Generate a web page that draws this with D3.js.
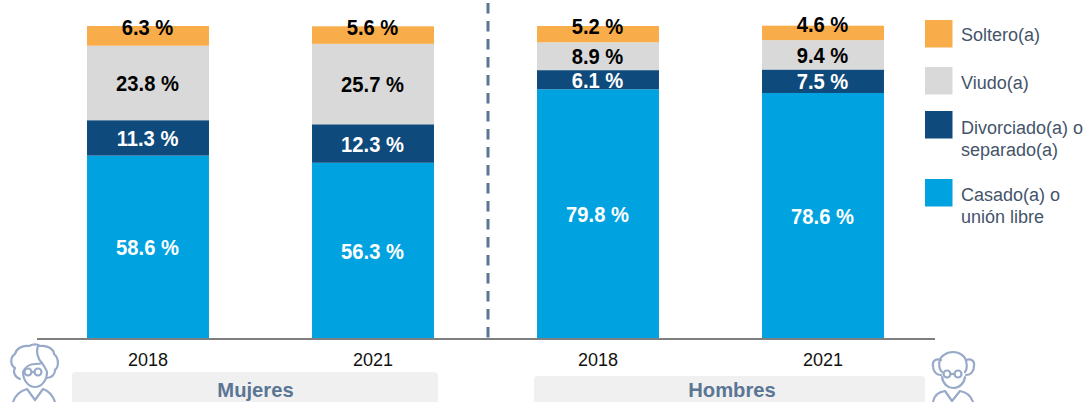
<!DOCTYPE html>
<html><head><meta charset="utf-8">
<script src="https://cdn.jsdelivr.net/npm/d3@7"></script>
<style>html,body{margin:0;padding:0;background:#fff;overflow:hidden}svg{display:block}text{font-family:"Liberation Sans",Arial,sans-serif}</style>
</head><body><svg id="c" width="1085" height="402"></svg>
<script>
const groups = ["m2018","m2021","h2018","h2021"];
const yearLabels = ["2018","2021","2018","2021"];
const casado = [58.6,56.3,79.8,78.6];
const divorciado = [11.3,12.3,6.1,7.5];
const viudo = [23.8,25.7,8.9,9.4];
const soltero = [6.3,5.6,5.2,4.6];
const seriesColors = ["#00a3e0","#0e4a7b","#d9d9d9","#f9ad4a"];
const labelColors = ["#fff","#fff","#000","#000"];
const panelNames = ["Mujeres","Hombres"];
const legendOrder = [["Soltero(a)"],["Viudo(a)"],["Divorciado(a) o","separado(a)"],["Casado(a) o","unión libre"]];
const legendColors = ["#f9ad4a","#d9d9d9","#0e4a7b","#00a3e0"];

const svg = d3.select("#c");
const x = d3.scaleBand().domain(groups).range([35.5,935.5]).paddingInner(0.458).paddingOuter(0.229);
const y = d3.scaleLinear().domain([0,100]).range([339,26]);
const values = [casado,divorciado,viudo,soltero];
const rows = groups.map((g,i)=>({g,casado:casado[i],divorciado:divorciado[i],viudo:viudo[i],soltero:soltero[i]}));
const stack = d3.stack().keys(["casado","divorciado","viudo","soltero"])(rows);

stack.forEach((s,k)=>{
  svg.append("g").selectAll("rect").data(s).join("rect")
    .attr("x",d=>x(d.data.g)).attr("width",x.bandwidth())
    .attr("y",d=>y(d[1])).attr("height",d=>y(d[0])-y(d[1]))
    .attr("fill",seriesColors[k]);
});
svg.append("line").attr("x1",37).attr("x2",935).attr("y1",339).attr("y2",339).attr("stroke","#7f7f7f").attr("stroke-width",2);
stack.forEach((s,k)=>{
  svg.append("g").selectAll("text").data(s).join("text")
    .attr("transform",d=>`translate(${x(d.data.g)+x.bandwidth()/2-0.5},${(y(d[0])+y(d[1]))/2+(k===3?-8.5:0)+8}) scale(0.93,1)`)
    .attr("text-anchor","middle").attr("font-size",21.7).attr("font-weight","bold")
    .attr("fill",labelColors[k]).text((d,i)=>values[k][i].toFixed(1)+" %");
});
svg.append("g").selectAll("text").data(groups).join("text")
  .attr("x",d=>x(d)+x.bandwidth()/2).attr("y",366).attr("text-anchor","middle")
  .attr("font-size",18).attr("fill","#111").text((d,i)=>yearLabels[i]);
svg.append("line").attr("x1",488).attr("x2",488).attr("y1",3).attr("y2",339)
  .attr("stroke","#5b7595").attr("stroke-width",3).attr("stroke-dasharray","10.5 7.5");

// panel strips
const panelBoxes = [[72,372,366,40],[534,376,391,40]];
const panelTextX = [255.5,732];
panelBoxes.forEach((b,i)=>{
  svg.append("rect").attr("x",b[0]).attr("y",b[1]).attr("width",b[2]).attr("height",b[3]).attr("rx",4).attr("fill","#f0f0f0");
  svg.append("text").attr("x",panelTextX[i]).attr("y",397).attr("text-anchor","middle")
    .attr("font-size",20.2).attr("font-weight","bold").attr("fill","#5b7595").text(panelNames[i]);
});

// legend
const legendY = [20,67,111,179];
const legendTextY = [41,89,134,201];
legendOrder.forEach((lines,i)=>{
  svg.append("rect").attr("x",925).attr("y",legendY[i]).attr("width",27.5).attr("height",27.5).attr("fill",legendColors[i]);
  lines.forEach((t,j)=>{
    svg.append("text").attr("x",961).attr("y",legendTextY[i]+j*22).attr("font-size",18).attr("fill","#44546a").text(t);
  });
});

// icons
function icon(paths,circles){
  const g = svg.append("g").attr("fill","none").attr("stroke","#98aac8").attr("stroke-width",2.2).attr("stroke-linecap","round").attr("stroke-linejoin","round");
  paths.forEach(p=>g.append("path").attr("d",p));
  circles.forEach(c=>g.append("circle").attr("cx",c[0]).attr("cy",c[1]).attr("r",3.5));
}
icon([
 "M20 379 C14 377 13 371 15 368 C10 365 10 357 15 354 C16 349 22 345 29 346 C33 344 37 344 40 346 C47 345 54 349 54 354 C59 358 59 367 55 370 C55 374 52 378 47 378",
 "M38 346 C36 351 37 358 42 363",
 "M23 372 C25 367 30 364 35 364 C38 364 40 364 42 363 C44 366 46 369 47 372",
 "M23 372 C23 381 29 387 35 387 C41 387 47 381 47 372",
 "M13 402 C15 396 20 391 27 389 L35 400 L43 389 C49 391 53 396 55 402",
 "M31.5 372 L34.5 372"
],[[28,372],[38,372]]);
icon([
 "M942 372 C938 368 938 358 944 355 C949 351 957 351 962 355 C967 358 968 368 965 372",
 "M941 360 C936 358 932 361 933 366 C933 371 936 375 941 375",
 "M966 360 C971 358 975 361 974 366 C974 371 971 375 966 375",
 "M942 377 C943 384 948 388 953 388 C959 388 964 384 965 377",
 "M933 402 C934 396 938 392 945 391 L952 401 L960 391 C966 392 971 396 973 402",
 "M950.5 374 L954.5 374"
],[[947,374],[958,374]]);
</script></body></html>
